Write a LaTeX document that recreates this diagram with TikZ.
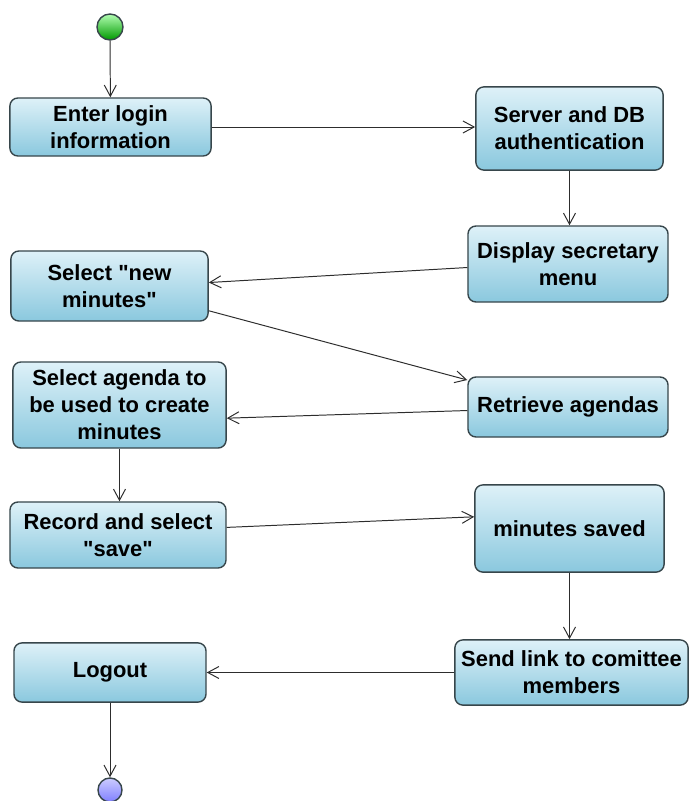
\documentclass[tikz,border=0pt]{standalone}
\usepackage{fontspec}
\setmainfont{Liberation Sans}
\usetikzlibrary{
    arrows.meta,
    positioning,
    calc
}

\definecolor{boxtop}{RGB}{222,241,248}
\definecolor{boxbottom}{RGB}{138,200,222}
\definecolor{boxline}{RGB}{55,70,75}
\definecolor{flowline}{RGB}{45,45,45}

\begin{document}
\begin{tikzpicture}[
    x=0.025cm, y=-0.025cm,
    activity/.style={rectangle, rounded corners=0.2cm, inner sep=0pt,
                     align=center, draw=boxline, line width=1pt,
                     top color=boxtop, bottom color=boxbottom,
                     font=\fontsize{15.6}{19.2}\selectfont\bfseries},
    initial/.style={circle, minimum size=0.65cm, inner sep=0pt, draw=boxline,
                    line width=1pt, top color=green!30!white, bottom color=green!60!black},
    final/.style={circle, minimum size=0.6cm, inner sep=0pt, draw=boxline,
                  line width=1pt, top color=blue!20!white, bottom color=blue!50!white},
    flow/.style={draw=flowline, line width=0.7pt, -{Straight Barb[length=2.8mm, width=3mm]}}
]
    \useasboundingbox (0,0) rectangle (689,801);

    % Start and end points
    \node (start) [initial] at (110,27) {};
    \node (stop) [final] at (110,790) {};

    % Left column
    \node (login) [activity, minimum width=5.03cm, minimum height=1.45cm]
        at (110.5,127) {Enter login\\information};
    \node (newmin) [activity, minimum width=4.93cm, minimum height=1.75cm]
        at (109.5,286) {Select \textquotedbl new\\minutes\textquotedbl};
    \node (agenda) [activity, minimum width=5.33cm, minimum height=2.15cm]
        at (119.5,405) {Select agenda to\\be used to create\\minutes};
    \node (record) [activity, minimum width=5.4cm, minimum height=1.65cm]
        at (118,535) {Record and select\\\textquotedbl save\textquotedbl};
    \node (logout) [activity, minimum width=4.8cm, minimum height=1.48cm]
        at (110,672.5) {Logout};

    % Right column
    \node (auth) [activity, minimum width=4.68cm, minimum height=2.08cm]
        at (569.5,128.5) {Server and DB\\authentication};
    \node (menu) [activity, minimum width=5cm, minimum height=1.9cm]
        at (568,264) {Display secretary\\menu};
    \node (fetch) [activity, minimum width=5cm, minimum height=1.5cm]
        at (568,407) {Retrieve agendas};
    \node (saved) [activity, minimum width=4.73cm, minimum height=2.18cm]
        at (569.5,528.5) {minutes saved};
    \node (notify) [activity, minimum width=5.83cm, minimum height=1.63cm]
        at (571.5,672.5) {Send link to comittee\\members};

    % Control flow
    \draw [flow] (start) -- (login);
    \draw [flow] (login) -- (login -| auth.west);
    \draw [flow] (auth.south) -- (auth.south |- menu.north);
    \draw [flow] (menu.182) -- (newmin.2);
    \draw [flow] (newmin.-14) -- (fetch.165);
    \draw [flow] (fetch.182) -- (agenda.-7);
    \draw [flow] (agenda.south) -- (agenda.south |- record.north);
    \draw [flow] (record.4) -- (saved.173);
    \draw [flow] (saved.south) -- (saved.south |- notify.north);
    \draw [flow] (notify) -- (logout);
    \draw [flow] (logout) -- (stop);

\end{tikzpicture}
\end{document}
